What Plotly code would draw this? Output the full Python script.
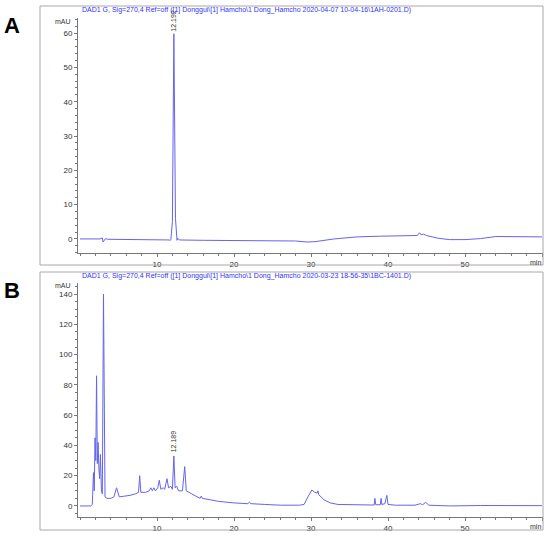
import plotly.graph_objects as go
from plotly.subplots import make_subplots

# -- chromatogram A (2020-04-07, 1AH-0201)
time_a = [0, 2.6, 2.9, 3.0, 3.1, 3.3, 3.6, 8, 11.0, 11.6, 11.7, 11.8, 12.0, 12.19, 12.4, 12.6,
          12.7, 12.9, 16, 20, 25, 28, 29.5, 30.5, 33, 36, 39, 42, 43.8, 44.1, 44.3, 44.6, 45.0,
          46.5, 48, 50, 52, 54, 56, 60]
mau_a = [0, 0, 0.3, -0.9, -0.6, 0.1, -0.1, -0.1, -0.3, -0.3, -0.5, -0.2, 5, 59.8, 6, -0.4,
         0.2, -0.3, -0.4, -0.5, -0.5, -0.6, -0.9, -0.8, 0, 0.6, 0.8, 0.9, 1.0, 1.8, 1.2, 1.4, 1.0,
         0.2, -0.2, -0.2, 0.1, 0.7, 0.7, 0.6]

# -- chromatogram B (2020-03-23, 1BC-1401)
time_b = [0, 1.4, 1.6, 1.75, 1.85, 1.95, 2.05, 2.15, 2.25, 2.35, 2.45, 2.55, 2.65, 2.78, 2.9,
          3.05, 3.25, 3.5, 4.0, 4.4, 4.75, 5.1, 5.8, 6.5, 7.2, 7.6, 7.75, 7.9, 8.5, 9.0, 9.2,
          9.4, 9.6, 9.8, 10.1, 10.3, 10.5, 10.8, 11.0, 11.3, 11.5, 11.8, 12.0, 12.19, 12.35,
          12.55, 12.8, 13.3, 13.6, 13.8, 14.5, 15.2, 15.6, 15.75, 15.9, 17, 18, 20, 21.8, 22,
          22.2, 24, 26, 28.5, 29.1, 29.6, 30.1, 30.5, 30.8, 30.9, 31.0, 31.7, 32.5, 33.5, 35,
          37, 38.2, 38.3, 38.4, 39.0, 39.1, 39.2, 39.6, 39.75, 39.85, 40.0, 41, 43.5, 44.2,
          44.5, 44.9, 45.3, 48, 52, 56, 60]
mau_b = [0, 0, 1, 22, 10, 45, 30, 86, 28, 42, 25, 18, 34, 10, 8,
         140, 6, 5, 5, 6, 12, 6, 6.5, 7, 8, 9, 20, 9, 9, 10, 12,
         10, 12, 10, 12, 17, 11, 12, 11, 18, 12, 13, 11, 33, 12,
         13, 10, 10, 26, 10, 8, 6, 5, 6.5, 5, 4, 3, 2, 1.5, 2.5,
         1.5, 1, 0.5, 0.5, 1, 6, 10.5, 9, 8.5, 10, 7.5, 4, 2, 1, 0.8,
         0.5, 0.6, 5, 0.8, 0.8, 5, 1, 1.5, 5, 7, 1, 0.5, 0.5, 1.5,
         0.8, 2.4, 0.5, 0, 0.3, 0.2, 0.2]

x_ticks = [10, 20, 30, 40, 50, 60]
x_labels = ['10', '20', '30', '40', '50', '']

titles = [
    'DAD1 G, Sig=270,4 Ref=off ([1] Donggui\\[1] Hamcho\\1 Dong_Hamcho 2020-04-07 10-04-16\\1AH-0201.D)',
    'DAD1 G, Sig=270,4 Ref=off ([1] Donggui\\[1] Hamcho\\1 Dong_Hamcho 2020-03-23 18-56-35\\1BC-1401.D)',
]

W, H = 550, 535
line_col = '#6464f0'
title_col = '#3232ff'


def px(x):
    return x / W


def py(y):
    return 1 - y / H


fig = make_subplots(rows=2, cols=1)

fig.add_trace(go.Scatter(x=time_a, y=mau_a, mode='lines',
                         line=dict(color=line_col, width=1)), 1, 1)
fig.add_trace(go.Scatter(x=time_b, y=mau_b, mode='lines',
                         line=dict(color=line_col, width=1)), 2, 1)

axis_style = dict(showgrid=False, zeroline=False, showline=True, linecolor='#777',
                  linewidth=1, ticks='outside', ticklen=3, tickcolor='#777',
                  tickfont=dict(family='Arial', size=8, color='#333'))

fig.update_xaxes(axis_style, tickvals=x_ticks, ticktext=x_labels, range=[-0.26, 60.13],
                 domain=[px(78), px(543)],
                 minor=dict(dtick=2, ticklen=2, tickcolor='#777', ticks='outside'))
fig.update_yaxes(axis_style)
fig.update_yaxes(range=[-4.1, 64.4], domain=[py(253), py(18)], dtick=10,
                 minor=dict(dtick=2, ticklen=2, tickcolor='#777', ticks='outside'), row=1, col=1)
fig.update_yaxes(range=[-7.3, 147.3], domain=[py(517), py(283)], dtick=20,
                 minor=dict(dtick=5, ticklen=2, tickcolor='#777', ticks='outside'), row=2, col=1)

# -- panel frames
for y0, y1 in [(6, 265), (272, 530)]:
    fig.add_shape(type='rect', xref='paper', yref='paper', x0=px(40), x1=px(543),
                  y0=py(y1), y1=py(y0), line=dict(color='#a8a8a8', width=1))

annots = []
# -- header lines
for t, y in zip(titles, [10, 276]):
    annots.append(dict(text=t, xref='paper', yref='paper', x=px(80), y=py(y),
                       xanchor='left', yanchor='middle', showarrow=False,
                       font=dict(family='Arial', size=7, color=title_col)))
# -- mAU labels and "min" labels
for y in [21, 285]:
    annots.append(dict(text='mAU', xref='paper', yref='paper', x=px(73), y=py(y),
                       xanchor='right', yanchor='middle', showarrow=False,
                       font=dict(family='Arial', size=7, color='#333')))
for y in [262, 526]:
    annots.append(dict(text='min', xref='paper', yref='paper', x=px(543), y=py(y),
                       xanchor='right', yanchor='middle', showarrow=False,
                       font=dict(family='Arial', size=7, color='#333')))
# -- panel letters
for t, y in [('A', 25), ('B', 290)]:
    annots.append(dict(text='<b>' + t + '</b>', xref='paper', yref='paper', x=px(12), y=py(y),
                       xanchor='center', yanchor='middle', showarrow=False,
                       font=dict(family='Arial', size=22, color='black')))
# -- retention time labels
annots.append(dict(text='12.192', x=12.19, y=59.8, xref='x', yref='y', textangle=-90,
                   xanchor='center', yanchor='bottom', showarrow=False,
                   font=dict(family='Arial', size=7, color='#333')))
annots.append(dict(text='12.189', x=12.19, y=34, xref='x2', yref='y2', textangle=-90,
                   xanchor='center', yanchor='bottom', showarrow=False,
                   font=dict(family='Arial', size=7, color='#333')))

fig.update_layout(width=W, height=H, margin=dict(l=0, r=0, t=0, b=0),
                  plot_bgcolor='white', paper_bgcolor='white', showlegend=False,
                  annotations=annots)

# drop the page's default body margin so the figure fills the window
fig.write_html("out.html", config={'displayModeBar': False},
               post_script="document.body.style.margin='0';")
